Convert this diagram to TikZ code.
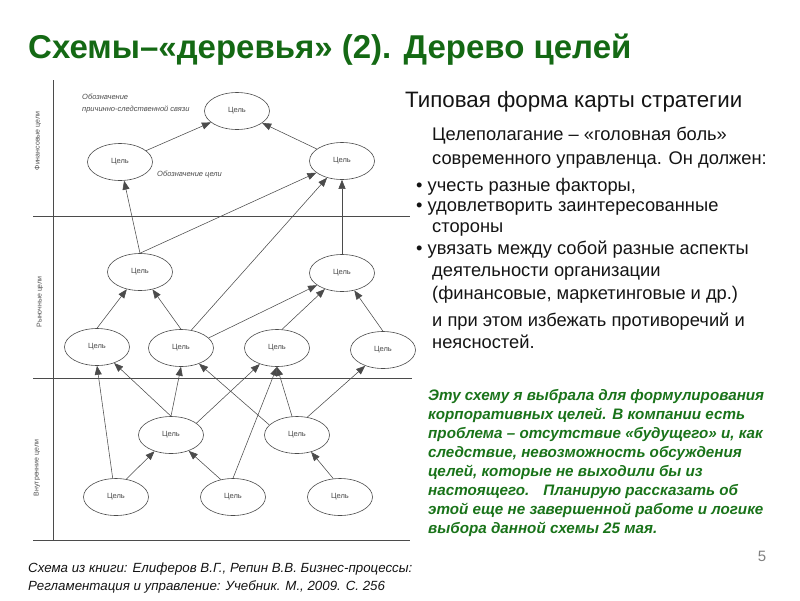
\documentclass[tikz,border=0pt]{standalone}
\usepackage{fontspec}
\setmainfont{Liberation Sans}
\usetikzlibrary{arrows.meta,shapes.geometric}
\definecolor{titlegreen}{RGB}{20,105,20}
\definecolor{txtgreen}{RGB}{25,115,25}
\definecolor{scan}{RGB}{75,75,75}
\definecolor{bodytext}{RGB}{20,20,20}
\begin{document}
\begin{tikzpicture}[x=1pt,y=-1pt,
  goal/.style={ellipse, draw=scan, line width=0.6pt, minimum width=65pt, minimum height=37pt, inner sep=0pt, font=\fontsize{7.5}{8}\selectfont, text=scan},
  link/.style={draw=scan, line width=0.55pt, -{Triangle[length=9pt,width=7pt]}},
  sepline/.style={draw=scan, line width=0.7pt},
  vlabel/.style={rotate=90, font=\fontsize{7}{8}\selectfont, text=scan},
  anno/.style={anchor=base west, font=\fontsize{7.5}{9}\selectfont\itshape, text=scan, inner sep=0pt},
  bodyline/.style={anchor=base west, font=\fontsize{18.3}{22}\selectfont, text=bodytext, inner sep=0pt},
  greenline/.style={anchor=base west, font=\fontsize{15.2}{18}\selectfont\bfseries\itshape, text=txtgreen, inner sep=0pt},
  capline/.style={anchor=base west, font=\fontsize{13.3}{16}\selectfont\itshape, text=bodytext, inner sep=0pt}
]
\useasboundingbox (0,0) rectangle (800,600);

% title
\node[anchor=base west, inner sep=0pt, font=\fontsize{33}{38}\selectfont\bfseries, text=titlegreen] (title) at (28,58) {Схемы–«деревья» (2). Дерево целей};

% frame lines of the scheme
\coordinate (v1) at (53,80); \coordinate (v2) at (53,540);
\draw[sepline] (v1) -- (v2);
\coordinate (h1a) at (33,216); \coordinate (h1b) at (410,216);
\coordinate (h2a) at (33,378); \coordinate (h2b) at (412,378);
\coordinate (h3a) at (33,540); \coordinate (h3b) at (410,540);
\draw[sepline] (h1a) -- (h1b);
\draw[sepline] (h2a) -- (h2b);
\draw[sepline] (h3a) -- (h3b);

\node[vlabel] (lab1) at (38,141) {Финансовые цели};
\node[vlabel] (lab2) at (40,302) {Рыночные цели};
\node[vlabel] (lab3) at (37,468) {Внутренние цели};

\node[anno] (an1) at (82,99) {Обозначение};
\node[anno] (an2) at (82,111) {причинно-следственной связи};
\node[anno] (an3) at (157,176) {Обозначение цели};

% goals
\node[goal] (A) at (237,111) {Цель};
\node[goal] (B) at (120,162) {Цель};
\node[goal] (C) at (342,161) {Цель};
\node[goal] (D) at (140,272) {Цель};
\node[goal] (E) at (342,273) {Цель};
\node[goal] (F) at (97,347) {Цель};
\node[goal] (G) at (181,348) {Цель};
\node[goal] (H) at (277,348) {Цель};
\node[goal] (I) at (383,350) {Цель};
\node[goal] (J) at (171,435) {Цель};
\node[goal] (K) at (297,435) {Цель};
\node[goal] (L) at (116,497) {Цель};
\node[goal] (M) at (233,497) {Цель};
\node[goal] (N) at (340,497) {Цель};

% links
\draw[link] (B) -- (A);
\draw[link] (C) -- (A);
\draw[link] (D.north) -- (B);
\draw[link] (D.north) -- (C);
\draw[link] (E.north) -- (C.south);
\draw[link] (G.60) -- (C);
\draw[link] (F.north) -- (D);
\draw[link] (G.north) -- (D);
\draw[link] (G.20) -- (E);
\draw[link] (H.75) -- (E);
\draw[link] (I.north) -- (E);
\draw[link] (L.100) -- (F.south);
\draw[link] (J.north) -- (F);
\draw[link] (J.north) -- (G.south);
\draw[link] (K.160) -- (G);
\draw[link] (J.25) -- (H);
\draw[link] (M.north) -- (H.south);
\draw[link] (K.105) -- (H.south);
\draw[link] (K.60) -- (I);
\draw[link] (L.60) -- (J);
\draw[link] (M.125) -- (J);
\draw[link] (N.110) -- (K);

% right text
\node[anchor=base west, inner sep=0pt, font=\fontsize{22.3}{26}\selectfont, text=bodytext] (t0) at (405,107) {Типовая форма карты стратегии};
\node[bodyline] (t1) at (432,140) {Целеполагание – «головная боль»};
\node[bodyline] (t2) at (432,164) {современного управленца. Он должен:};
\node[bodyline] (t3) at (416,191) {• учесть разные факторы,};
\node[bodyline] (t4) at (416,211) {• удовлетворить заинтересованные};
\node[bodyline] (t5) at (432,232) {стороны};
\node[bodyline] (t6) at (416,254) {• увязать между собой разные аспекты};
\node[bodyline] (t7) at (432,276) {деятельности организации};
\node[bodyline] (t8) at (432,299) {(финансовые, маркетинговые и др.)};
\node[bodyline] (t9) at (432,326) {и при этом избежать противоречий и};
\node[bodyline] (t10) at (432,348) {неясностей.};

\node[greenline] (g1) at (428,400) {Эту схему я выбрала для формулирования};
\node[greenline] (g2) at (428,419) {корпоративных целей. В компании есть};
\node[greenline] (g3) at (428,438) {проблема – отсутствие «будущего» и, как};
\node[greenline] (g4) at (428,457) {следствие, невозможность обсуждения};
\node[greenline] (g5) at (428,476) {целей, которые не выходили бы из};
\node[greenline] (g6) at (428,495) {настоящего. \ \ Планирую рассказать об};
\node[greenline] (g7) at (428,514) {этой еще не завершенной работе и логике};
\node[greenline] (g8) at (428,533) {выбора данной схемы 25 мая.};

\node[capline] (c1) at (28,572) {Схема из книги: Елиферов В.Г., Репин В.В. Бизнес-процессы:};
\node[capline] (c2) at (28,590) {Регламентация и управление: Учебник. М., 2009. С. 256};

\node[anchor=base, inner sep=0pt, font=\fontsize{15}{18}\selectfont, text=gray] (num) at (762,561) {5};
\end{tikzpicture}
\end{document}
